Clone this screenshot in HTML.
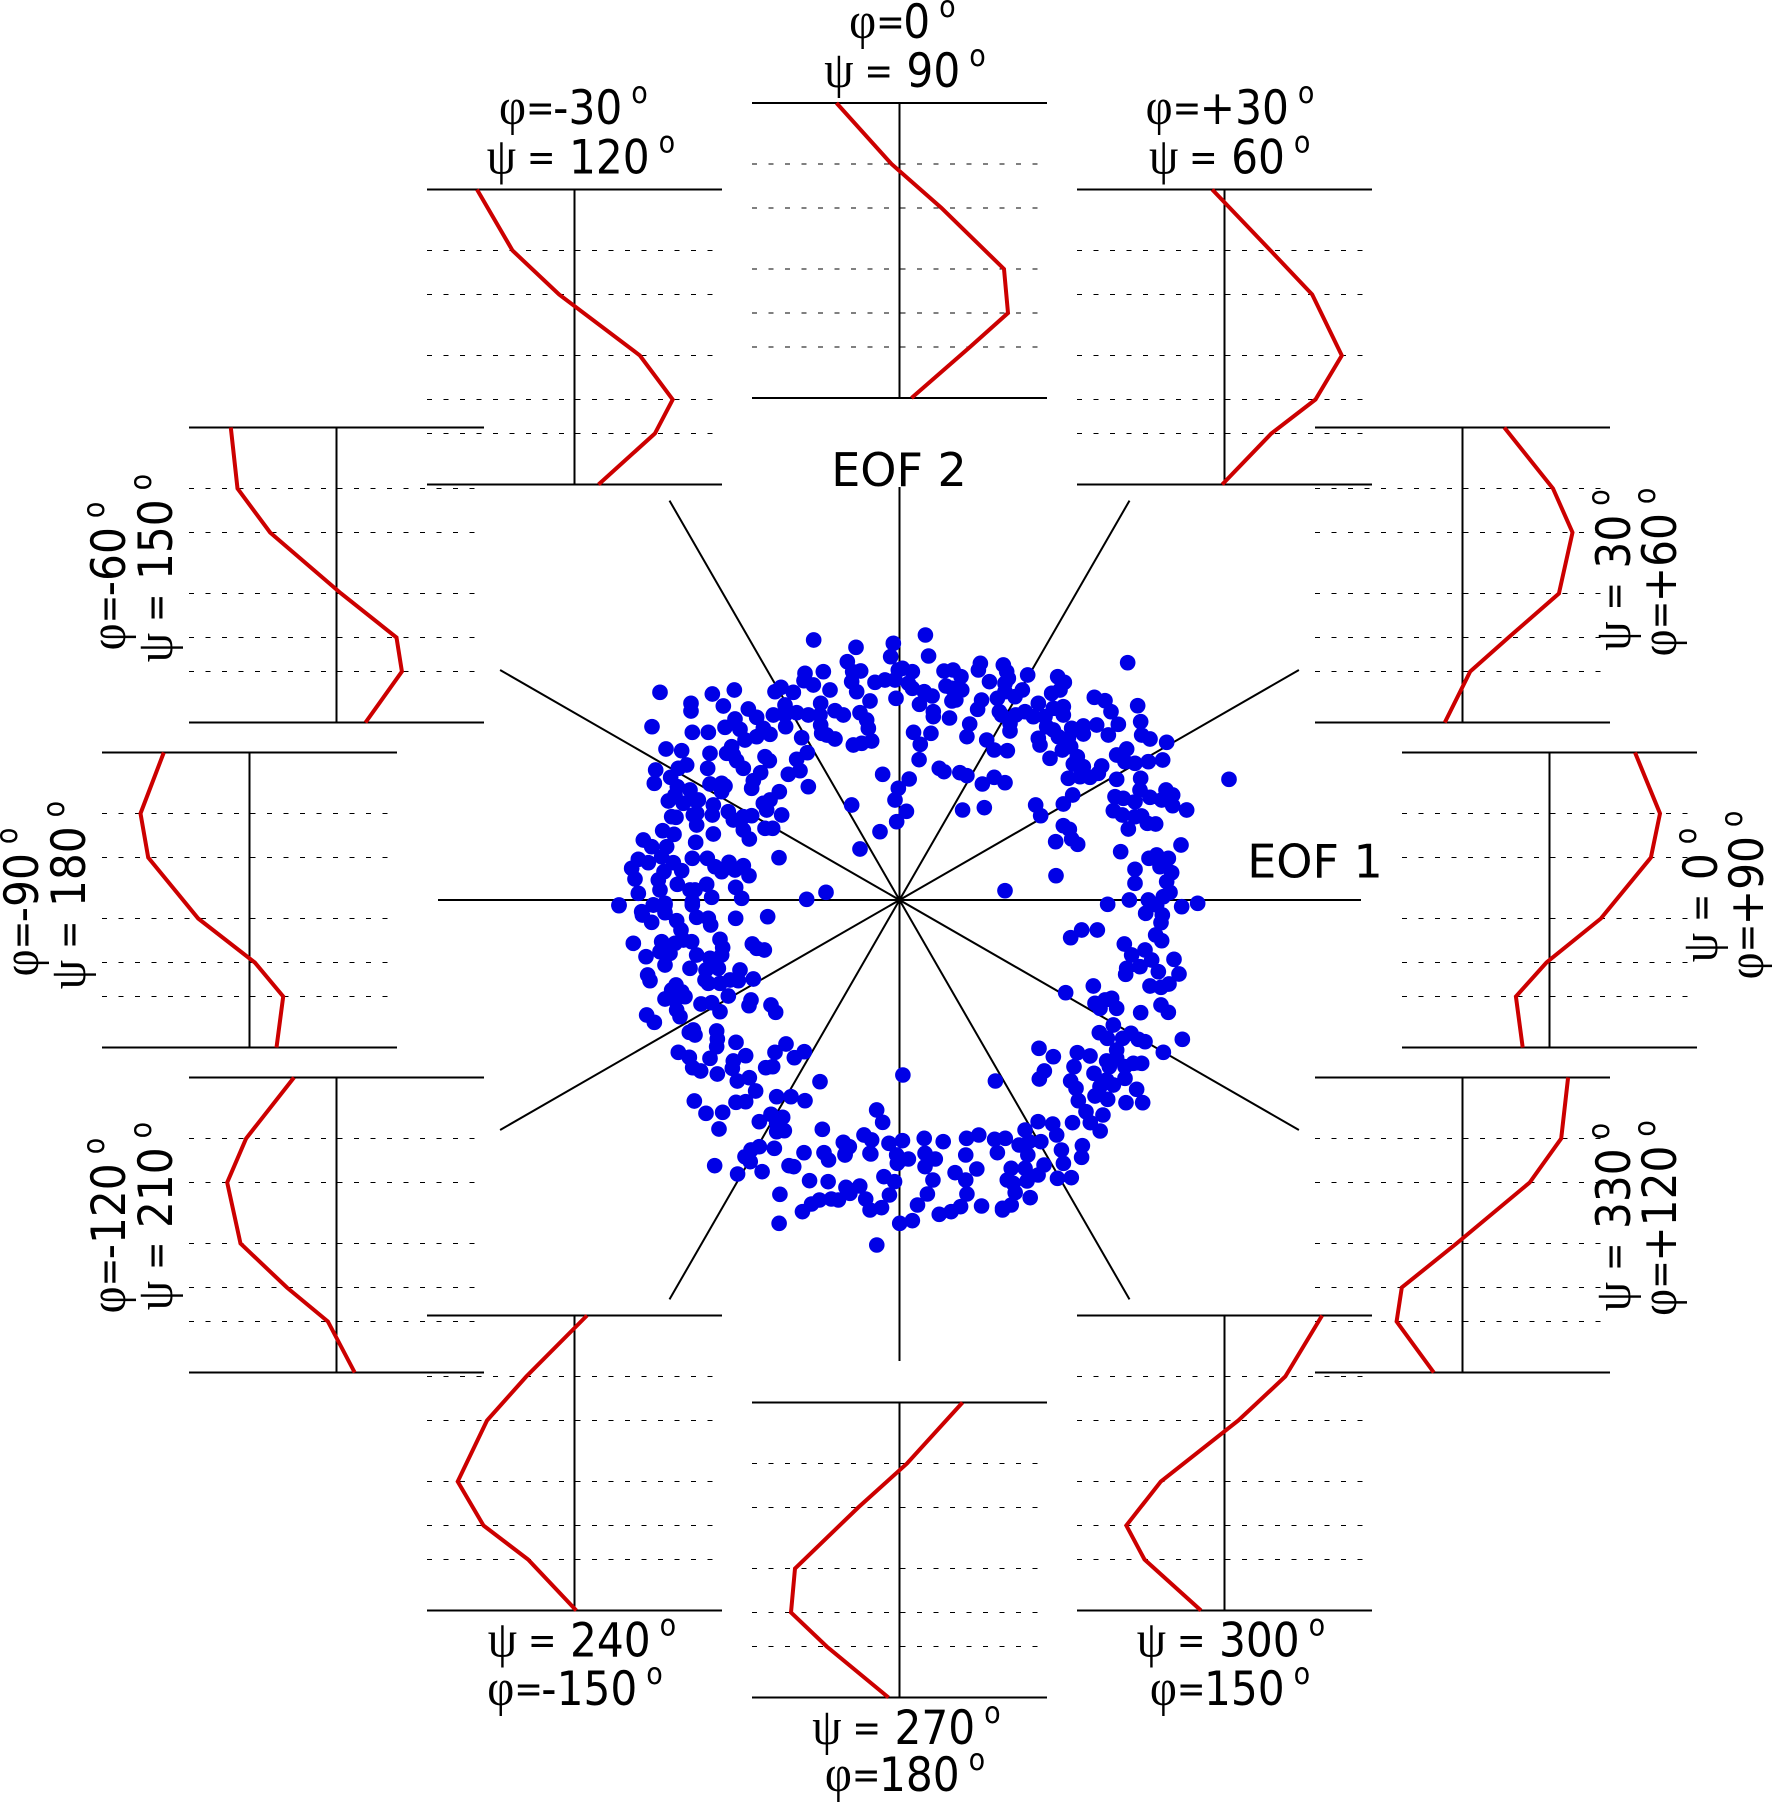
<!DOCTYPE html>
<html><head><meta charset="utf-8"><style>
html,body{margin:0;padding:0;background:#fff}
svg{display:block}
text{font-family:"DejaVu Sans","Liberation Sans",sans-serif;font-size:47px;fill:#000}
.e{font-size:46px}
.g{font-family:"Liberation Serif","DejaVu Serif",serif;font-size:52px}
.q{font-size:38px}
.d{font-size:30px}
</style></head><body>
<svg xmlns="http://www.w3.org/2000/svg" width="1772" height="1802" viewBox="0 0 1772 1802">
<rect width="1772" height="1802" fill="#fff"/>
<defs>
<g id="f" fill="none" stroke="#000">
<path d="M-147.5 0H147.5M-147.5 295H147.5M0 0V295" stroke-width="2"/>
<path d="M-147.5 61H138M-147.5 105H138M-147.5 166H138M-147.5 210H138M-147.5 244H138" stroke-width="1" stroke-dasharray="5 11.5"/>
</g>
</defs>
<!-- spokes -->
<g stroke="#000" stroke-width="2">
<line x1="899.5" y1="487" x2="899.5" y2="1361"/>
<line x1="438" y1="900" x2="1361" y2="900"/>
<line x1="669.5" y1="500.6" x2="1129.5" y2="1299.4"/>
<line x1="1129.5" y1="500.6" x2="669.5" y2="1299.4"/>
<line x1="500.1" y1="670" x2="1298.9" y2="1130"/>
<line x1="1298.9" y1="670" x2="500.1" y2="1130"/>
</g>
<!-- dots -->
<g fill="none" stroke="#0000e6" stroke-linecap="round">
<path transform="translate(600,640) scale(.3333333)" stroke-width="47" d="M641 0h0M768 22h0M880 10h0M872 50h0M895 90h0M615 100h0M670 95h0M742 65h0M758 95h0M782 93h0M612 122h0M640 135h0M690 150h0M755 125h0M770 155h0M825 127h0M855 120h0M885 120h0M888 175h0M810 183h0M780 218h0M800 240h0M805 265h0M815 303h0M785 310h0M760 315h0M705 297h0M680 285h0M665 280h0M662 255h0M660 225h0M662 190h0M705 212h0M730 225h0M625 225h0M590 218h0M555 195h0M555 225h0M520 225h0M525 155h0M543 142h0M580 157h0M445 207h0M470 232h0M405 237h0M375 262h0M420 268h0M490 265h0M510 283h0M470 290h0M557 260h0M605 293h0M435 300h0M395 320h0M380 340h0M400 345h0M410 362h0M430 385h0M495 350h0M508 362h0M482 398h0M460 422h0M455 445h0M565 403h0M600 392h0M590 358h0M622 338h0M625 440h0M538 455h0M510 480h0M490 490h0M500 510h0M545 525h0M385 515h0M400 540h0M430 530h0M455 527h0M430 570h0M448 597h0M495 565h0M518 565h0M340 495h0M337 525h0M290 555h0M280 525h0M285 480h0M270 450h0M365 430h0M375 438h0M330 432h0M365 455h0M330 340h0M323 385h0M180 157h0M337 162h0M403 150h0M273 190h0M273 213h0M370 198h0M156 260h0M277 277h0M325 277h0M198 327h0M245 332h0M167 390h0M163 430h0M260 375h0M235 385h0M212 412h0M232 440h0M225 465h0M205 483h0M250 490h0M295 480h0M228 532h0M215 530h0M290 520h0M188 572h0M222 583h0M340 582h0M287 607h0M130 600h0M155 620h0M200 620h0M185 650h0M220 668h0M277 655h0M322 655h0M345 680h0M365 695h0M387 667h0M405 690h0M430 677h0M447 707h0M245 692h0M192 695h0M115 658h0M145 668h0M95 685h0M105 717h0M115 760h0M175 720h0M232 733h0M180 750h0M320 733h0M285 750h0M270 750h0M277 785h0M335 772h0M407 742h0M425 775h0M537 653h0M780 627h0M848 403h0M755 495h0M840 575h0M890 545h0M885 480h0M895 445h0M678 757h0M620 778h0M57 795h0M160 795h0M195 790h0M125 815h0"/>
<path transform="translate(600,890) scale(.3333333)" stroke-width="47" d="M57 47h0M127 75h0M155 97h0M160 45h0M195 45h0M195 68h0M230 92h0M243 120h0M277 45h0M290 82h0M325 85h0M332 105h0M407 85h0M503 80h0M100 160h0M138 200h0M185 155h0M205 175h0M225 160h0M250 150h0M275 155h0M180 185h0M210 190h0M195 225h0M270 235h0M290 195h0M360 148h0M368 173h0M365 195h0M330 205h0M355 235h0M318 240h0M315 270h0M325 280h0M457 162h0M470 175h0M493 180h0M143 255h0M150 272h0M420 240h0M415 272h0M390 270h0M360 280h0M460 267h0M385 318h0M228 285h0M215 300h0M245 305h0M255 320h0M195 327h0M225 330h0M230 360h0M240 380h0M140 375h0M163 397h0M303 342h0M335 338h0M360 365h0M453 330h0M447 347h0M513 345h0M527 367h0M280 420h0M268 427h0M285 435h0M350 423h0M352 447h0M350 470h0M408 457h0M437 497h0M330 505h0M400 513h0M397 535h0M235 487h0M268 502h0M278 533h0M302 543h0M352 552h0M412 573h0M448 563h0M467 603h0M525 487h0M558 462h0M583 503h0M613 485h0M497 533h0M518 530h0M660 575h0M283 633h0M318 670h0M368 667h0M357 717h0M408 637h0M437 635h0M530 620h0M573 620h0M615 632h0M513 673h0M548 682h0M478 695h0M530 700h0M553 722h0M530 725h0M667 718h0M830 660h0M848 697h0M523 775h0M478 770h0M453 780h0M435 800h0M612 788h0M672 788h0M730 757h0M748 770h0M735 795h0M792 735h0M815 750h0M810 790h0M867 760h0M890 795h0"/>
<path transform="translate(1000,640) scale(.3333333)" stroke-width="47" d="M383 68h0M83 105h0M173 110h0M193 127h0M155 160h0M180 150h0M283 172h0M315 182h0M333 215h0M413 197h0M422 245h0M425 285h0M450 297h0M500 307h0M355 253h0M325 285h0M290 255h0M250 258h0M250 282h0M215 265h0M190 225h0M190 200h0M160 205h0M115 190h0M135 230h0M100 230h0M75 215h0M47 225h0M10 75h0M20 95h0M25 115h0M15 155h0M45 170h0M67 150h0M5 225h0M30 273h0M22 332h0M15 428h0M115 295h0M120 315h0M150 355h0M187 330h0M212 320h0M232 350h0M220 372h0M250 380h0M240 410h0M205 415h0M270 412h0M305 378h0M295 400h0M350 345h0M380 327h0M375 365h0M405 370h0M445 365h0M488 360h0M350 418h0M422 415h0M420 450h0M405 485h0M345 470h0M370 475h0M340 512h0M367 525h0M385 567h0M405 530h0M425 528h0M442 550h0M467 552h0M450 472h0M498 450h0M518 465h0M485 480h0M518 497h0M560 510h0M107 495h0M122 527h0M190 492h0M218 465h0M190 557h0M208 568h0M215 597h0M233 613h0M167 605h0M168 707h0M362 635h0M543 615h0M687 418h0M470 645h0M505 655h0M447 655h0M405 688h0M515 698h0M480 680h0M500 725h0M405 730h0M510 757h0M490 770h0M445 780h0M388 780h0M323 793h0M593 790h0M545 800h0M470 795h0M15 752h0M160 270h0M140 260h0M175 290h0M205 295h0M15 130h0M30 250h0"/>
<path transform="translate(1000,880) scale(.3333333)" stroke-width="47" d="M437 100h0M487 105h0M483 128h0M467 165h0M485 182h0M212 173h0M245 150h0M292 150h0M373 192h0M395 225h0M435 210h0M455 240h0M420 260h0M380 265h0M377 283h0M475 275h0M522 238h0M537 282h0M450 318h0M483 322h0M507 312h0M483 375h0M505 397h0M422 398h0M280 318h0M197 338h0M285 370h0M300 385h0M315 360h0M335 355h0M350 385h0M340 435h0M298 458h0M322 475h0M368 475h0M393 460h0M415 478h0M435 485h0M547 478h0M490 517h0M117 505h0M160 530h0M133 573h0M118 597h0M232 518h0M270 528h0M222 560h0M212 603h0M228 625h0M282 580h0M300 620h0M320 600h0M340 615h0M285 648h0M323 658h0M375 595h0M410 628h0M378 668h0M428 668h0M350 510h0M350 535h0M320 543h0M328 560h0M375 560h0M400 550h0M425 550h0M235 662h0M258 695h0"/>
<path transform="translate(600,600) scale(.3954,.3333333)" vector-effect="non-scaling-stroke" stroke-width="15.6" d="M823 105h0M831 168h0M870 213h0M893 210h0M913 230h0M962 190h0M957 210h0M985 245h0M875 258h0M890 265h0M915 270h0M890 303h0M900 300h0M955 328h0M965 300h0M1010 335h0M1005 295h0M843 335h0M843 350h0M884 354h0M935 372h0M928 410h0M978 420h0M997 450h0M858 505h0M870 515h0M910 518h0M928 527h0M967 552h0M997 532h0M917 630h0M972 623h0M837 400h0M793 397h0M810 433h0M807 479h0M790 215h0M765 205h0M780 250h0M790 265h0M820 275h0M840 288h0M808 313h0M782 537h0M775 634h0"/>
<path transform="translate(600,900) scale(.3954,.3333333)" vector-effect="non-scaling-stroke" stroke-width="15.6" d="M290 797h0M348 822h0M410 815h0M380 785h0M490 800h0M478 797h0M578 780h0M620 762h0M685 762h0M530 842h0M577 845h0M718 830h0M745 845h0M455 883h0M622 862h0M657 858h0M732 885h0M512 935h0M535 912h0M555 900h0M585 897h0M603 900h0M632 880h0M672 897h0M683 930h0M712 923h0M453 970h0M700 1035h0M758 970h0M760 780h0M752 790h0M766 525h0M1000 543h0M765 722h0M820 715h0M822 760h0M848 777h0M780 777h0M822 800h0M868 725h0M927 715h0M925 765h0M958 705h0M998 718h0M1005 758h0M1025 715h0M1075 690h0M1060 735h0M1085 725h0M1082 765h0M1115 725h0M1108 665h0M1145 672h0M1155 705h0M1195 668h0M1167 750h0M1172 790h0M1220 737h0M1218 772h0M1265 693h0M1240 668h0M1272 645h0M1123 795h0M1108 825h0M1157 835h0M1192 833h0M1075 805h0M1040 805h0M1030 840h0M1045 850h0M1080 843h0M1050 878h0M1088 893h0M1040 915h0M1018 925h0M953 807h0M898 818h0M925 840h0M842 840h0M828 882h0M928 882h0M803 915h0M912 920h0M888 935h0M858 943h0M965 918h0M790 962h0M1018 930h0"/>
</g>
<!-- panels -->
<use href="#f" x="899.5" y="103"/>
<use href="#f" x="1224.5" y="189.5"/>
<use href="#f" x="574.5" y="189.5"/>
<use href="#f" x="336.5" y="427.5"/>
<use href="#f" x="1462.5" y="427.5"/>
<use href="#f" x="249.5" y="752.5"/>
<use href="#f" x="1549.5" y="752.5"/>
<use href="#f" x="336.5" y="1077.5"/>
<use href="#f" x="1462.5" y="1077.5"/>
<use href="#f" x="574.5" y="1315.5"/>
<use href="#f" x="1224.5" y="1315.5"/>
<use href="#f" x="899.5" y="1402.5"/>
<g fill="none" stroke="#cc0000" stroke-width="4" stroke-linejoin="miter">
<polyline transform="translate(899.5,103)" points="-63,0 -8,61 42,105 104.5,166 108.5,210 70.5,244 12,295"/>
<polyline transform="translate(574.5,189.5)" points="-97.5,0 -62,61 -15.4,105 65.4,166 98.2,210 80.4,244 24,295"/>
<polyline transform="translate(336.5,427.5)" points="-105.7,0 -99,61 -66.4,105 4.6,166 60,210 65.4,244 29,295"/>
<polyline transform="translate(1224.5,189.5)" points="-12.3,0 46,61 87.7,105 117.3,166 91,210 46.8,244 -2.3,295"/>
<polyline transform="translate(1462.5,427.5)" points="41.8,0 90.5,61 110,105 96.4,166 46,210 7.7,244 -17.7,295"/>
<polyline transform="translate(1549.5,752.5)" points="85.5,0 110.5,61 101.4,105 51.4,166 -3,210 -33.6,244 -26.8,295"/>
<polyline transform="translate(249.5,752.5)" points="-85.7,0 -109,61 -101.3,105 -51.3,166 5.3,210 33.7,244 27,295"/>
<polyline transform="translate(336.5,1077.5)" points="-42.5,0 -90.4,61 -109.3,105 -96,166 -49.6,210 -8.6,244 18.2,295"/>
<polyline transform="translate(574.5,1315.5)" points="12.5,0 -48.2,61 -87.5,105 -116.8,166 -91,210 -46.4,244 1.8,295"/>
<polyline transform="translate(899.5,1402.5)" points="63,0 7.5,61 -41.3,105 -104.5,166 -108.5,210 -72.8,244 -11,295"/>
<polyline transform="translate(1224.5,1315.5)" points="97.6,0 60.8,61 13.8,105 -63.7,166 -98.2,210 -80,244 -23.5,295"/>
<polyline transform="translate(1462.5,1077.5)" points="105.6,0 98.7,61 67.2,105 -6,166 -60.7,210 -65.9,244 -28.7,295"/>
</g>
<!-- labels -->
<g text-anchor="middle">
<text class="e" x="899" y="486">EOF 2</text>
<text class="e" x="1315" y="877.5">EOF 1</text>

<text transform="translate(902.4,38) scale(.9,1)"><tspan class="g">φ</tspan><tspan class="q" dy="-3">=</tspan><tspan dy="3" dx="-1.7">0</tspan><tspan class="d" dx="10" dy="-21">o</tspan></text>
<text transform="translate(905,87) scale(.9,1)"><tspan class="g">ψ</tspan><tspan dx="-3"> </tspan><tspan class="q" dy="-3">=</tspan><tspan dy="3"> 90</tspan><tspan class="d" dx="10" dy="-21">o</tspan></text>

<text transform="translate(573.4,124) scale(.9,1)"><tspan class="g">φ</tspan><tspan class="q" dy="-3">=</tspan><tspan dy="3" dx="-1.7">-30</tspan><tspan class="d" dx="10" dy="-21">o</tspan></text>
<text transform="translate(581,173.5) scale(.9,1)"><tspan class="g">ψ</tspan><tspan dx="-3"> </tspan><tspan class="q" dy="-3">=</tspan><tspan dy="3"> 120</tspan><tspan class="d" dx="10" dy="-21">o</tspan></text>

<text transform="translate(1230,124) scale(.9,1)"><tspan class="g">φ</tspan><tspan class="q" dy="-3">=</tspan><tspan dy="3" dx="-1.7">+30</tspan><tspan class="d" dx="10" dy="-21">o</tspan></text>
<text transform="translate(1229.7,173.5) scale(.9,1)"><tspan class="g">ψ</tspan><tspan dx="-3"> </tspan><tspan class="q" dy="-3">=</tspan><tspan dy="3"> 60</tspan><tspan class="d" dx="10" dy="-21">o</tspan></text>

<text transform="translate(582,1656.5) scale(.9,1)"><tspan class="g">ψ</tspan><tspan dx="-3"> </tspan><tspan class="q" dy="-3">=</tspan><tspan dy="3"> 240</tspan><tspan class="d" dx="10" dy="-21">o</tspan></text>
<text transform="translate(575,1705) scale(.9,1)"><tspan class="g">φ</tspan><tspan class="q" dy="-3">=</tspan><tspan dy="3" dx="-1.7">-150</tspan><tspan class="d" dx="10" dy="-21">o</tspan></text>

<text transform="translate(1231,1656.5) scale(.9,1)"><tspan class="g">ψ</tspan><tspan dx="-3"> </tspan><tspan class="q" dy="-3">=</tspan><tspan dy="3"> 300</tspan><tspan class="d" dx="10" dy="-21">o</tspan></text>
<text transform="translate(1230,1705) scale(.9,1)"><tspan class="g">φ</tspan><tspan class="q" dy="-3">=</tspan><tspan dy="3" dx="-1.7">150</tspan><tspan class="d" dx="10" dy="-21">o</tspan></text>

<text transform="translate(906.5,1744) scale(.9,1)"><tspan class="g">ψ</tspan><tspan dx="-3"> </tspan><tspan class="q" dy="-3">=</tspan><tspan dy="3"> 270</tspan><tspan class="d" dx="10" dy="-21">o</tspan></text>
<text transform="translate(905,1791) scale(.9,1)"><tspan class="g">φ</tspan><tspan class="q" dy="-3">=</tspan><tspan dy="3" dx="-1.7">180</tspan><tspan class="d" dx="10" dy="-21">o</tspan></text>

<text transform="translate(38,902) rotate(-90) scale(.9,1)"><tspan class="g">φ</tspan><tspan class="q" dy="-3">=</tspan><tspan dy="3" dx="-1.7">-90</tspan><tspan class="d" dx="10" dy="-21">o</tspan></text>
<text transform="translate(85,895) rotate(-90) scale(.9,1)"><tspan class="g">ψ</tspan><tspan dx="-3"> </tspan><tspan class="q" dy="-3">=</tspan><tspan dy="3"> 180</tspan><tspan class="d" dx="10" dy="-21">o</tspan></text>

<text transform="translate(125,576) rotate(-90) scale(.9,1)"><tspan class="g">φ</tspan><tspan class="q" dy="-3">=</tspan><tspan dy="3" dx="-1.7">-60</tspan><tspan class="d" dx="10" dy="-21">o</tspan></text>
<text transform="translate(172,568) rotate(-90) scale(.9,1)"><tspan class="g">ψ</tspan><tspan dx="-3"> </tspan><tspan class="q" dy="-3">=</tspan><tspan dy="3"> 150</tspan><tspan class="d" dx="10" dy="-21">o</tspan></text>

<text transform="translate(125,1225.6) rotate(-90) scale(.9,1)"><tspan class="g">φ</tspan><tspan class="q" dy="-3">=</tspan><tspan dy="3" dx="-1.7">-120</tspan><tspan class="d" dx="10" dy="-21">o</tspan></text>
<text transform="translate(172,1216) rotate(-90) scale(.9,1)"><tspan class="g">ψ</tspan><tspan dx="-3"> </tspan><tspan class="q" dy="-3">=</tspan><tspan dy="3"> 210</tspan><tspan class="d" dx="10" dy="-21">o</tspan></text>

<text transform="translate(1630,570) rotate(-90) scale(.9,1)"><tspan class="g">ψ</tspan><tspan dx="-3"> </tspan><tspan class="q" dy="-3">=</tspan><tspan dy="3"> 30</tspan><tspan class="d" dx="10" dy="-21">o</tspan></text>
<text transform="translate(1676,572) rotate(-90) scale(.9,1)"><tspan class="g">φ</tspan><tspan class="q" dy="-3">=</tspan><tspan dy="3" dx="-1.7">+60</tspan><tspan class="d" dx="10" dy="-21">o</tspan></text>

<text transform="translate(1717,895) rotate(-90) scale(.9,1)"><tspan class="g">ψ</tspan><tspan dx="-3"> </tspan><tspan class="q" dy="-3">=</tspan><tspan dy="3"> 0</tspan><tspan class="d" dx="10" dy="-21">o</tspan></text>
<text transform="translate(1763,895) rotate(-90) scale(.9,1)"><tspan class="g">φ</tspan><tspan class="q" dy="-3">=</tspan><tspan dy="3" dx="-1.7">+90</tspan><tspan class="d" dx="10" dy="-21">o</tspan></text>

<text transform="translate(1630,1217) rotate(-90) scale(.9,1)"><tspan class="g">ψ</tspan><tspan dx="-3"> </tspan><tspan class="q" dy="-3">=</tspan><tspan dy="3"> 330</tspan><tspan class="d" dx="10" dy="-21">o</tspan></text>
<text transform="translate(1676,1218) rotate(-90) scale(.9,1)"><tspan class="g">φ</tspan><tspan class="q" dy="-3">=</tspan><tspan dy="3" dx="-1.7">+120</tspan><tspan class="d" dx="10" dy="-21">o</tspan></text>
</g>
</svg>
</body></html>
